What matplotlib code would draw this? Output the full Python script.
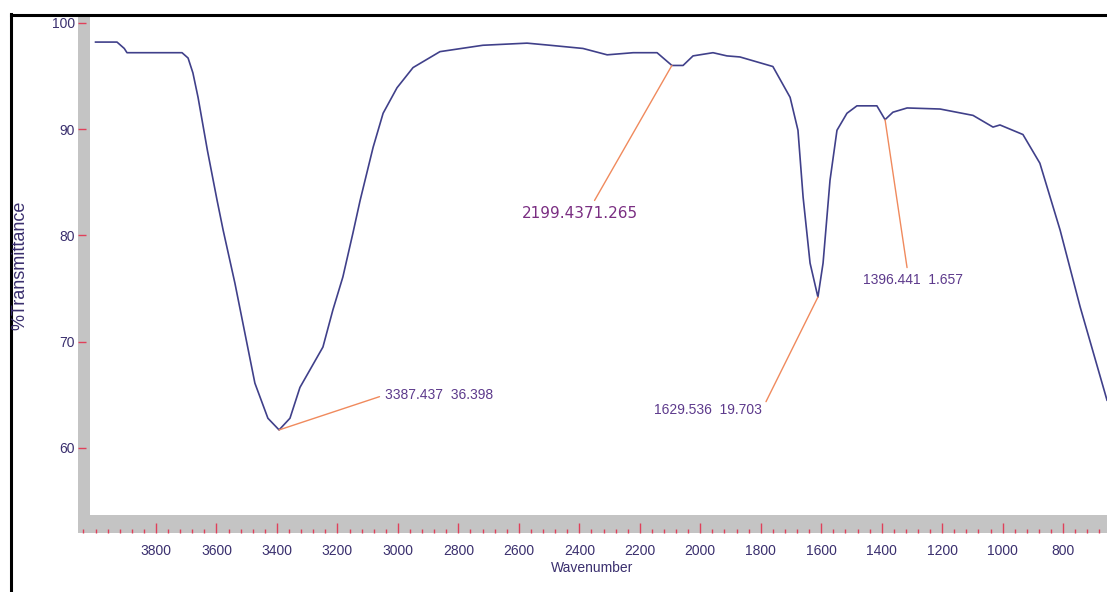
import matplotlib
matplotlib.use('Agg')
import matplotlib.pyplot as plt
from matplotlib.patches import Rectangle
from matplotlib.lines import Line2D
from matplotlib.ticker import MultipleLocator

# IR spectrum
wavenumber = [4000, 3929, 3905, 3896, 3714, 3694, 3678, 3661, 3630, 3598,
              3578, 3539, 3506, 3473, 3430, 3393, 3357, 3324, 3248, 3215,
              3182, 3149, 3125, 3082, 3049, 3003, 2950, 2861, 2719, 2573,
              2497, 2388, 2308, 2222, 2143, 2094, 2057, 2024, 1958, 1912,
              1869, 1760, 1703, 1677, 1660, 1637, 1611, 1594, 1571, 1548,
              1515, 1482, 1416, 1389, 1363, 1316, 1207, 1098, 1032, 1009,
              933, 877, 810, 744, 655]
transmittance = [98.2, 98.2, 97.6, 97.2, 97.2, 96.7, 95.3, 93.0, 88.0, 83.3,
                 80.5, 75.5, 70.8, 66.1, 62.8, 61.7, 62.8, 65.7, 69.5, 73.0,
                 76.1, 80.2, 83.3, 88.3, 91.5, 93.9, 95.8, 97.3, 97.9, 98.1,
                 97.9, 97.6, 97.0, 97.2, 97.2, 96.0, 96.0, 96.9, 97.2, 96.9,
                 96.8, 95.9, 93.0, 89.9, 83.6, 77.4, 74.2, 77.4, 85.2, 89.9,
                 91.5, 92.2, 92.2, 90.9, 91.6, 92.0, 91.9, 91.3, 90.2, 90.4,
                 89.5, 86.8, 80.5, 73.3, 64.5]

# peak labels
peak_labels = ['3387.437  36.398', '2199.4371.265', '1629.536  19.703', '1396.441  1.657']
peak_wn = [3393, 2094, 1611, 1389]
peak_T = [61.7, 96.0, 74.2, 90.9]

xticks = [3800, 3600, 3400, 3200, 3000, 2800, 2600, 2400, 2200, 2000,
          1800, 1600, 1400, 1200, 1000, 800]
yticks = [60, 70, 80, 90, 100]

narrow = ['Liberation Sans Narrow', 'Liberation Sans', 'DejaVu Sans']
curve_col = '#40408a'
tick_col = '#e0405a'
text_col = '#3a2f6e'
ann_col = '#5d3a8c'
line_col = '#f08a5d'

fig = plt.figure(figsize=(11.07, 5.92), dpi=100)
ax = fig.add_axes([78/1107, 59/592, 1029/1107, 516/592])

# frame around the window
fig.add_artist(Line2D([11/1107, 11/1107], [0, 578/592], color='black', lw=2.2,
                      transform=fig.transFigure))
fig.add_artist(Line2D([11/1107, 1], [577/592, 577/592], color='black', lw=2.2,
                      transform=fig.transFigure))

# gray axis bars
ax.add_patch(Rectangle((0, 0), 12/1029, 1, transform=ax.transAxes,
                       facecolor='#c4c4c4', edgecolor='none', clip_on=False, zorder=1))
ax.add_patch(Rectangle((0, 0), 1, 18/516, transform=ax.transAxes,
                       facecolor='#c4c4c4', edgecolor='none', clip_on=False, zorder=1))

ax.plot(wavenumber, transmittance, color=curve_col, lw=1.2, zorder=3)

ax.set_xlim(4058, 655)
ax.set_ylim(52.0, 100.56)

for s in ax.spines.values():
    s.set_visible(False)

ax.set_xticks(xticks)
ax.xaxis.set_minor_locator(MultipleLocator(40))
ax.set_yticks(yticks)
ax.tick_params(axis='x', which='major', direction='in', length=7, width=1,
               color=tick_col, pad=8, labelsize=10, labelcolor=text_col)
ax.tick_params(axis='x', which='minor', direction='in', length=3, width=1,
               color=tick_col)
ax.tick_params(axis='y', which='major', direction='in', length=6, width=1,
               color=tick_col, pad=2, labelsize=10, labelcolor=text_col)
for lab in ax.get_xticklabels() + ax.get_yticklabels():
    lab.set_family(narrow)

ax.set_xlabel('Wavenumber', family=narrow, fontsize=10, color=text_col, labelpad=2)
fig.text(20/1107, 1 - 265/592, '%Transmittance', rotation=90, ha='center', va='center',
         family=narrow, fontsize=13, color=text_col)


def arrow(rp):
    return dict(arrowstyle='-', color=line_col, lw=1, shrinkA=2, shrinkB=0, relpos=rp)


ax.annotate(peak_labels[0], xy=(peak_wn[0], peak_T[0]), xytext=(3043, 65.0),
            ha='left', va='center', fontsize=10, family=narrow, color=ann_col,
            arrowprops=arrow((0, 0.5)))
ax.annotate(peak_labels[1], xy=(peak_wn[1], peak_T[1]), xytext=(2398, 82.1),
            ha='center', va='center', fontsize=11, family='DejaVu Sans', color='#7a2e82',
            arrowprops=arrow((0.6, 1)))
ax.annotate(peak_labels[2], xy=(peak_wn[2], peak_T[2]), xytext=(1796, 63.6),
            ha='right', va='center', fontsize=10, family=narrow, color=ann_col,
            arrowprops=arrow((1, 0.5)))
ax.annotate(peak_labels[3], xy=(peak_wn[3], peak_T[3]), xytext=(1297, 75.8),
            ha='center', va='center', fontsize=10, family=narrow, color=ann_col,
            arrowprops=arrow((0.45, 1)))

fig.savefig('out.png', dpi=100)
